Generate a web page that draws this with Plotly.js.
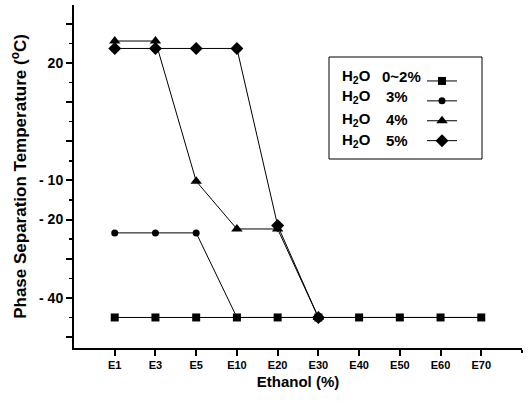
<!DOCTYPE html>
<html><head><meta charset="utf-8">
<script src="https://cdn.plot.ly/plotly-3.0.1.min.js"></script>
<style>html,body{margin:0;padding:0;background:#fff}#c{width:529px;height:405px}</style>
</head><body><div id="c"></div>
<script>
const categories = ["E1","E3","E5","E10","E20","E30","E40","E50","E60","E70"];
const seriesNames = ["0~2%","3%","4%","5%"];
const h2o_0_2 = [-45,-45,-45,-45,-45,-45,-45,-45,-45,-45];
const h2o_3 = [-23.4,-23.4,-23.4,-45,-45,-45,-45,-45,-45,-45];
const h2o_4 = [25.6,25.6,-10.2,-22.4,-22.4,-45,null,null,null,null];
const h2o_5 = [23.7,23.7,23.7,23.7,-21.5,-45,null,null,null,null];
const yTickVals = [30,20,10,0,-10,-20,-30,-40,-50];
const yTickText = ["","20","","","- 10","- 20","","- 40",""];

const W=529,H=405,L=74,R=7,T=5,B=57;
const pw=W-L-R, ph=H-T-B;
const px=x=>(x-L)/pw, py=y=>(H-B-y)/ph;

const symbols=["square","circle","triangle-up","diamond"];
const sizes=[8,7,10,10];
const vals=[h2o_0_2,h2o_3,h2o_4,h2o_5];
const traces=vals.map((v,i)=>({
  x:categories,y:v,type:"scatter",mode:"lines+markers",name:" ",
  line:{color:"#000",width:1},
  marker:{symbol:symbols[i],size:sizes[i],color:"#000"},
  showlegend:true
})).reverse();

const FONT="Liberation Sans, Arial, sans-serif";
const rowY=[76,97,119,141];
const annotations=[];
seriesNames.forEach((n,i)=>{
  annotations.push({xref:"paper",yref:"paper",x:px(340),y:py(rowY[i]),xanchor:"left",yanchor:"middle",
    text:"<b>H<sub>2</sub>O</b>",showarrow:false,font:{family:FONT,size:15,color:"#000",weight:700}});
  annotations.push({xref:"paper",yref:"paper",x:px(i===0?380:384),y:py(rowY[i]),xanchor:"left",yanchor:"middle",
    text:"<b>"+n+"</b>",showarrow:false,font:{family:FONT,size:15,color:"#000",weight:700}});
});

const layout={
  width:W,height:H,margin:{l:L,r:R,t:T,b:B},
  paper_bgcolor:"#fff",plot_bgcolor:"#fff",
  font:{family:FONT,color:"#000"},
  xaxis:{type:"category",range:[-1,10],showgrid:false,zeroline:false,
    showline:true,linecolor:"#000",linewidth:2,ticks:"outside",ticklen:6,tickwidth:2,tickcolor:"#000",
    minor:{ticks:"outside",ticklen:3,tickwidth:1.5,tickcolor:"#000"},
    tickfont:{family:FONT,size:11,weight:700},
    title:{text:"<b>Ethanol (%)</b>",font:{family:FONT,size:15,weight:700},standoff:6}},
  yaxis:{range:[-52.8,34.8],showgrid:false,zeroline:false,
    showline:true,linecolor:"#000",linewidth:2,ticks:"outside",ticklen:6,tickwidth:2,tickcolor:"#000",
    tickvals:yTickVals,ticktext:yTickText,
    minor:{dtick:5,ticks:"outside",ticklen:3,tickwidth:1.5,tickcolor:"#000"},
    tickfont:{family:FONT,size:14,weight:700},
    title:{text:"<b>Phase Separation Temperature (<sup>o</sup>C)</b>",font:{family:FONT,size:17,weight:700},standoff:8}},
  showlegend:true,
  legend:{x:px(422),y:py(66),xanchor:"left",yanchor:"top",bgcolor:"rgba(0,0,0,0)",borderwidth:0,
    font:{size:13},itemwidth:30,tracegroupgap:0,traceorder:"reversed"},
  shapes:[{type:"rect",xref:"paper",yref:"paper",x0:px(329),x1:px(482),y0:py(159),y1:py(57),
    line:{color:"#000",width:1}}],
  annotations:annotations
};
Plotly.newPlot("c",traces,layout,{displayModeBar:false,staticPlot:true});
</script></body></html>
